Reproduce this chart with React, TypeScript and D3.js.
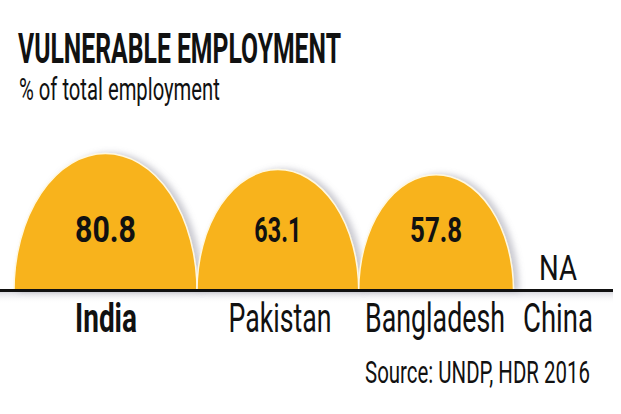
import React, { useLayoutEffect, useRef, useState } from "react";
import * as d3 from "d3";

const countries = ["India", "Pakistan", "Bangladesh", "China"];
const values: (number | null)[] = [80.8, 63.1, 57.8, null];
const valueLabels = ["80.8", "63.1", "57.8", "NA"];
const labelWidths = [62, 103, 140, 70];
const valueWidths = [61, 47, 52, 38];
const title = "VULNERABLE EMPLOYMENT";
const subtitle = "% of total employment";
const source = "Source: UNDP, HDR 2016";

const W = 621;
const H = 414;
const baseY = 290.5;
const startX = 14;
const FONT = "'Liberation Sans Narrow', Roboto, 'DejaVu Sans Condensed', sans-serif";

type FitProps = {
  x: number; y: number; width: number; size: number; weight?: number;
  anchor?: "start" | "middle"; children: string;
};

function FitText({ x, y, width, size, weight = 400, anchor = "start", children }: FitProps) {
  const ref = useRef<SVGTextElement>(null);
  const [k, setK] = useState(1);
  useLayoutEffect(() => {
    if (ref.current) {
      const nat = ref.current.getComputedTextLength();
      if (nat > 0) setK(width / nat);
    }
  }, [width, children, size]);
  return (
    <text ref={ref} transform={`translate(${x},${y}) scale(${k},1)`} textAnchor={anchor}
      fontFamily={FONT} fontWeight={weight} fontSize={size} fill="#111">{children}</text>
  );
}

export default function App() {
  const maxV = d3.max(values.filter((v): v is number => v != null)) as number;
  const wScale = d3.scaleSqrt().domain([0, maxV]).range([0, 183]);
  const hScale = d3.scaleSqrt().domain([0, maxV]).range([0, 137]);

  let x = startX;
  const domes = values.map((v) => {
    const w = v == null ? 0 : wScale(v);
    const h = v == null ? 0 : hScale(v);
    const d = { x0: x, x1: x + w, h, cx: x + w / 2 };
    x += w;
    return d;
  });
  const labelCenters = [106, 280, 435, 558];

  return (
    <svg width={W} height={H} style={{ position: "absolute", left: 0, top: 0, background: "#fff" }}>
      <defs>
        <filter id="sh" x="-20%" y="-20%" width="140%" height="140%">
          <feDropShadow dx="5" dy="0" stdDeviation="3" floodColor="#8a8a9a" floodOpacity="0.45" />
        </filter>
        <linearGradient id="under" x1="0" y1="0" x2="0" y2="1">
          <stop offset="0%" stopColor="#b8b8c4" stopOpacity="0.55" />
          <stop offset="100%" stopColor="#ffffff" stopOpacity="0" />
        </linearGradient>
      </defs>
      <rect width={W} height={H} fill="#fff" />
      <FitText x={18} y={63} width={323} size={43} weight={700}>{title}</FitText>
      <FitText x={19} y={100} width={201} size={31}>{subtitle}</FitText>

      <rect x={0} y={baseY + 1} width={613} height={12} fill="url(#under)" />

      {domes.map((d, i) =>
        values[i] == null ? null : (
          <path key={countries[i]}
            d={`M${d.x0},${baseY} A${(d.x1 - d.x0) / 2},${d.h} 0 0 1 ${d.x1},${baseY} Z`}
            fill="#F8B31C" stroke="#fff8e0" strokeWidth={1.5} filter="url(#sh)" />
        )
      )}

      <line x1={0} x2={613} y1={baseY} y2={baseY} stroke="#111" strokeWidth={3} />

      {domes.map((d, i) =>
        values[i] == null ? (
          <FitText key={"v" + i} x={labelCenters[i]} y={280} anchor="middle" width={valueWidths[i]} size={35}>
            {valueLabels[i]}
          </FitText>
        ) : (
          <FitText key={"v" + i} x={d.cx} y={242} anchor="middle" width={valueWidths[i]} size={36} weight={700}>
            {valueLabels[i]}
          </FitText>
        )
      )}

      {countries.map((c, i) => (
        <FitText key={c} x={labelCenters[i]} y={332} anchor="middle" width={labelWidths[i]} size={40}
          weight={i === 0 ? 700 : 400}>{c}</FitText>
      ))}

      <FitText x={365} y={383} width={225} size={31}>{source}</FitText>
    </svg>
  );
}
